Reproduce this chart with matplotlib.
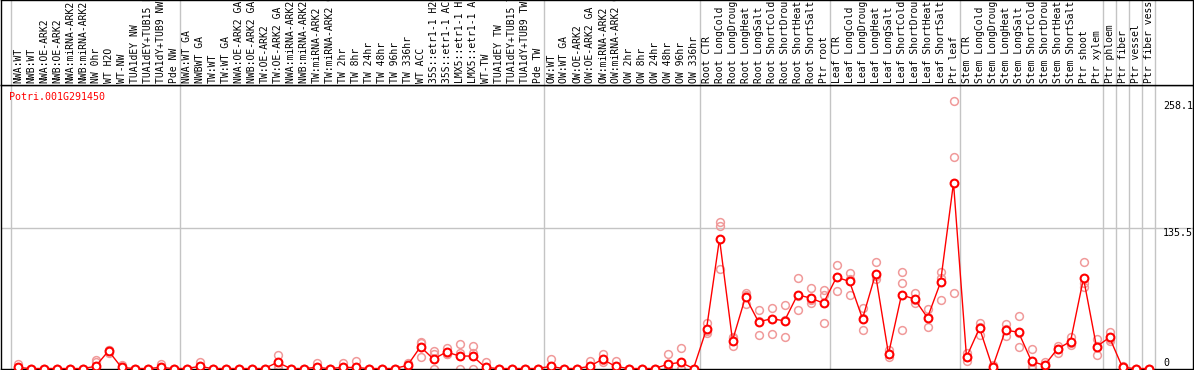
import matplotlib
matplotlib.use('Agg')
import numpy as np
from matplotlib import pyplot as plt
from matplotlib.transforms import blended_transform_factory

gene = 'Potri.001G291450'

# sample groups (labels, mean, replicates)
g1_labels = ['NWA:WT', 'NWB:WT', 'NWA:OE-ARK2', 'NWB:OE-ARK2', 'NWA:miRNA-ARK2', 'NWB:miRNA-ARK2',
             'NW 0hr', 'WT H2O', 'WT-NW', 'TUA1dEY NW', 'TUA1dEY+TUB15 NW', 'TUA1dY+TUB9 NW', 'Pde NW']
g1_mean = [1, 0, 0, 0, 0, 0, 2, 17, 1, 0, 0, 1, 0]
g1_reps = [[4, 0, 0], [0, 0, 0], [0, 0, 0], [0, 0, 0], [0, 0, 0], [0, 0, 0], [8, 6, 0], [18, 18, 15],
           [3, 0, 0], [0, 0, 0], [0, 0, 0], [4, 0, 0], [0, 0, 0]]

g2_labels = ['NWA:WT GA', 'NWBWT GA', 'TW:WT', 'TW:WT GA', 'NWA:OE-ARK2 GA', 'NWB:OE-ARK2 GA',
             'TW:OE-ARK2', 'TW:OE-ARK2 GA', 'NWA:miRNA-ARK2 GA', 'NWB:miRNA-ARK2 GA', 'TW:miRNA-ARK2',
             'TW:miRNA-ARK2 GA', 'TW 2hr', 'TW 8hr', 'TW 24hr', 'TW 48hr', 'TW 96hr', 'TW 336hr', 'WT ACC',
             '35S::etr1-1 H2O', '35S::etr1-1 ACC', 'LMX5::etr1-1 H2O', 'LMX5::etr1-1 ACC', 'WT-TW',
             'TUA1dEY TW', 'TUA1dEY+TUB15 TW', 'TUA1dY+TUB9 TW', 'Pde TW']
g2_mean = [0, 2, 0, 0, 0, 0, 0, 6, 0, 0, 1, 0, 1, 1, 0, 0, 0, 3, 21, 9, 16, 12, 12, 1, 0, 0, 0, 0]
g2_reps = [[0, 0, 0], [6, 0, 0], [0, 0, 0], [0, 0, 0], [0, 0, 0], [0, 0, 0], [0, 0, 0], [13, 3, 1],
           [0, 0, 0], [0, 0, 0], [5, 0, 0], [0, 0, 0], [5, 0, 0], [7, 0, 0], [0, 0, 0], [0, 0, 0],
           [0, 0, 0], [5, 2, 1], [26, 25, 11], [17, 14, 0], [20, 14, 14], [24, 15, 0], [22, 15, 0],
           [6, 0, 0], [0, 0, 0], [0, 0, 0], [0, 0, 0], [0, 0, 0]]

g3_labels = ['OW:WT', 'OW:WT GA', 'OW:OE-ARK2', 'OW:OE-ARK2 GA', 'OW:miRNA-ARK2', 'OW:miRNA-ARK2 GA',
             'OW 2hr', 'OW 8hr', 'OW 24hr', 'OW 48hr', 'OW 96hr', 'OW 336hr']
g3_mean = [2, 0, 0, 2, 9, 2, 0, 0, 0, 4, 6, 0]
g3_reps = [[9, 0, 0], [0, 0, 0], [0, 0, 0], [7, 0, 0], [14, 8, 6], [7, 0, 0], [0, 0, 0], [0, 0, 0],
           [0, 0, 0], [14, 0, 0], [20, 0, 0], [0, 0, 0]]

g4_labels = ['Root CTR', 'Root LongCold', 'Root LongDrought', 'Root LongHeat', 'Root LongSalt',
             'Root ShortCold', 'Root ShortDrought', 'Root ShortHeat', 'Root ShortSalt', 'Ptr root']
g4_mean = [38, 125, 27, 69, 45, 48, 46, 71, 68, 63]
g4_reps = [[44, 34, 36], [141, 137, 96], [30, 22, 29], [73, 62, 71], [56, 32, 46], [58, 33, 48],
           [61, 30, 47], [87, 56, 70], [78, 63, 66], [76, 71, 44]]

g5_labels = ['Leaf CTR', 'Leaf LongCold', 'Leaf LongDrought', 'Leaf LongHeat', 'Leaf LongSalt',
             'Leaf ShortCold', 'Leaf ShortDrought', 'Leaf ShortHeat', 'Leaf ShortSalt', 'Ptr leaf']
g5_mean = [88, 84, 48, 91, 14, 71, 67, 49, 83, 179]
g5_reps = [[100, 75, 88], [92, 71, 86], [58, 37, 49], [103, 86, 89], [18, 11, 14], [93, 82, 37],
           [73, 63, 66], [57, 40, 50], [93, 87, 66], [258.1, 204, 73]]

g6_labels = ['Stem CTR', 'Stem LongCold', 'Stem LongDrought', 'Stem LongHeat', 'Stem LongSalt',
             'Stem ShortCold', 'Stem ShortDrought', 'Stem ShortHeat', 'Stem ShortSalt', 'Ptr shoot', 'Ptr xylem']
g6_mean = [11, 39, 1, 37, 35, 7, 3, 19, 26, 87, 21]
g6_reps = [[15, 7, 11], [44, 32, 40], [3, 0, 0], [43, 31, 38], [51, 21, 34], [19, 0, 2], [6, 2, 1],
           [22, 15, 19], [30, 25, 23], [103, 82, 79], [28, 13, 22]]

g7_labels = ['Ptr phloem', 'Ptr fiber', 'Ptr vessel', 'Ptr fiber vessel']
g7_mean = [30, 1, 0, 0]
g7_reps = [[35, 28, 27], [1, 0, 2], [0, 0, 0], [0, 0, 0]]

ytick_vals = [258.1, 135.5, 0]

labels = g1_labels + g2_labels + g3_labels + g4_labels + g5_labels + g6_labels + g7_labels
means = g1_mean + g2_mean + g3_mean + g4_mean + g5_mean + g6_mean + g7_mean
reps = g1_reps + g2_reps + g3_reps + g4_reps + g5_reps + g6_reps + g7_reps
group_sizes = [len(g1_labels), len(g2_labels), len(g3_labels), len(g4_labels),
               len(g5_labels), len(g6_labels), 1, 1, 1, 1]

W, H = 1194, 370
fig = plt.figure(figsize=(W / 100, H / 100), dpi=100)
mono = 'DejaVu Sans Mono'
grid_c = '#c4c4c4'

# pixel layout
xl, xr = 1, 1193
top_plot, bot_plot = 85, 369
px_per_col = 13.0
x0 = 17.5  # center of first column
xlim = ((xl - x0) / px_per_col, (xr - x0) / px_per_col)
px_per_unit = 1.037
ylim = (-(bot_plot - 368.5) / px_per_unit, (368.5 - top_plot) / px_per_unit)

ax = fig.add_axes([xl / W, (H - bot_plot) / H, (xr - xl) / W, (bot_plot - top_plot) / H])
hx = fig.add_axes([xl / W, (H - top_plot) / H, (xr - xl) / W, top_plot / H])

for a in (ax, hx):
    a.set_xlim(*xlim)
    a.set_xticks([])
    a.set_yticks([])
    for s in a.spines.values():
        s.set_color('black')
        s.set_linewidth(1)
ax.set_ylim(*ylim)
hx.set_ylim(0, 1)

# group boundaries
bounds = [-0.5] + list(np.cumsum(group_sizes) - 0.5)
for b in bounds:
    ax.axvline(b, color=grid_c, lw=1, zorder=0)
    hx.axvline(b, color=grid_c, lw=1, zorder=0)
ax.axhline(135.5, color=grid_c, lw=1, zorder=0)

x = np.arange(len(labels))
for i, r in enumerate(reps):
    ax.plot([i] * len(r), r, 'o', ms=5.6, mfc='none', mec='#f09a9a', mew=1.1, zorder=2, clip_on=False)
ax.plot(x, means, '-', color='red', lw=1, zorder=3, clip_on=False)
ax.plot(x, means, 'o', ms=5.6, mfc='white', mec='red', mew=1.5, zorder=4, clip_on=False)

# header labels
trans = blended_transform_factory(hx.transData, hx.transAxes)
for i, lab in enumerate(labels):
    hx.text(i + 0.05, 2 / top_plot, lab, rotation=90, ha='center', va='bottom',
            fontsize=7, family=mono, transform=trans, clip_on=False)

# gene name
ax.text(8 / (xr - xl), 1 - 12 / (bot_plot - top_plot), gene, color='red', fontsize=7.2,
        family=mono, ha='left', va='center', transform=ax.transAxes)

# value labels on the right
tx = (1163 - x0) / px_per_col
for v in ytick_vals:
    ax.text(tx, v, f'{v:g}', fontsize=7.2, family=mono, ha='left',
            va='top' if v > 0 else 'bottom', transform=ax.transData)

fig.savefig('out.png', dpi=100)
